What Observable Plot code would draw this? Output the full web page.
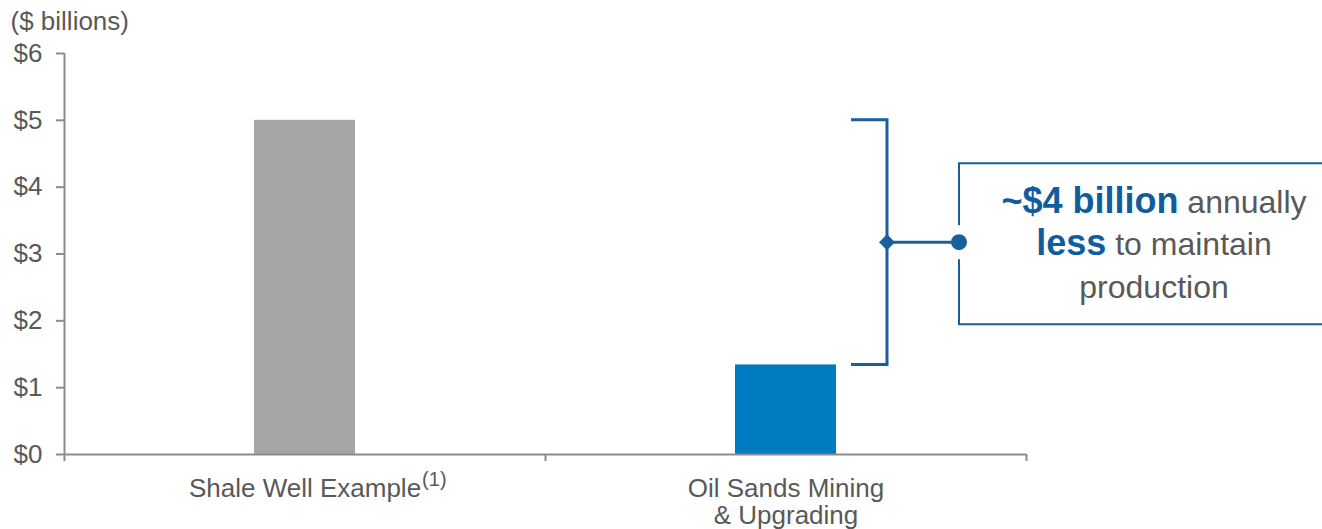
<!DOCTYPE html>
<html>
<head>
<meta charset="utf-8">
<script src="https://cdn.jsdelivr.net/npm/d3@7"></script>
<script src="https://cdn.jsdelivr.net/npm/@observablehq/plot@0.6"></script>
<style>
  body { margin: 0; background: #fff; }
</style>
</head>
<body>
<div id="chart"></div>
<script>
// Annual spend needed to maintain production ($ billions)
const categories = ["Shale Well Example", "Oil Sands Mining\n& Upgrading"];
const values = [5.0, 1.34];
const barColors = ["#a6a6a6", "#007bc2"];
const footnotes = ["(1)", ""];
const yTicks = [0, 1, 2, 3, 4, 5, 6];
const unitLabel = "($ billions)";

// Callout text: each line is a list of [text, emphasised?] runs
const calloutLines = [
  [["~$4 billion", true], [" annually", false]],
  [["less", true], [" to maintain", false]],
  [["production", false]]
];

const FONT = "'Liberation Sans', Arial, Helvetica, sans-serif";
const GREY_TEXT = "#595959";
const AXIS = "#8c8c8c";
const NAVY = "#1a5f9c";
const NAVY_TEXT = "#0f5d9e";

const rows = categories.map((name, i) => ({
  i, name, value: values[i], color: barColors[i], note: footnotes[i]
}));

// width of the first line of each label, so a footnote marker can follow it
const ctx = document.createElement("canvas").getContext("2d");
ctx.font = `26px ${FONT}`;
rows.forEach(r => { r.halfWidth = ctx.measureText(r.name.split("\n")[0]).width / 2; });

// one superscript marker per footnoted label, placed just after its first line
const footnoteMarks = rows.filter(r => r.note).map(r =>
  Plot.text([r], {
    x: d => d.i + 0.5, y: 0, text: "note", textAnchor: "start", lineAnchor: "bottom",
    dx: r.halfWidth + 1, dy: 31, fontSize: 20, fill: GREY_TEXT
  })
);

const chart = Plot.plot({
  width: 1322,
  height: 529,
  marginLeft: 64,
  marginRight: 296,
  marginTop: 53,
  marginBottom: 75,
  style: { fontFamily: FONT, background: "#fff", overflow: "visible" },
  x: { type: "linear", domain: [0, categories.length] },
  y: { domain: [0, 6] },
  marks: [
    Plot.rectY(rows, {
      x1: "i", x2: d => d.i + 1, y: "value", fill: "color",
      insetLeft: 190, insetRight: 190
    }),
    Plot.ruleX([0], { stroke: AXIS, strokeWidth: 2 }),
    Plot.ruleY([0], { stroke: AXIS, strokeWidth: 2 }),
    Plot.axisY({
      ticks: yTicks, tickFormat: d => `$${d}`, tickSize: 8, tickPadding: 14,
      fontSize: 26, fill: GREY_TEXT, stroke: AXIS, strokeWidth: 2, label: null
    }),
    Plot.axisX({
      ticks: d3.range(categories.length + 1), tickFormat: () => "", tickSize: 7,
      stroke: AXIS, strokeWidth: 2, label: null
    }),
    Plot.text(rows, {
      x: d => d.i + 0.5, y: 0, text: "name", lineAnchor: "top", dy: 23,
      fontSize: 26, lineHeight: 1.04, fill: GREY_TEXT
    }),
    ...footnoteMarks,
    Plot.text([unitLabel], {
      frameAnchor: "top-left", text: d => d, textAnchor: "start", lineAnchor: "bottom",
      dx: -54, dy: -23.5, fontSize: 26, fill: GREY_TEXT
    })
  ]
});

// Bracket spanning the two bars, with connector to the callout box
const xs = chart.scale("x"), ys = chart.scale("y");
const yTop = ys.apply(values[0]);
const yBot = ys.apply(values[1]);
const yMid = (yTop + yBot) / 2;
const barRight = xs.apply(2) - 190;
const bx = barRight + 51;
const armX = barRight + 15;
const cx = barRight + 123;

const svg = d3.select(chart);
const g = svg.append("g").attr("fill", "none");

g.append("path")
  .attr("d", `M${armX},${yTop}H${bx}V${yBot}H${armX}`)
  .attr("stroke", NAVY).attr("stroke-width", 3);
g.append("line")
  .attr("x1", bx).attr("x2", cx).attr("y1", yMid).attr("y2", yMid)
  .attr("stroke", NAVY).attr("stroke-width", 3);
g.append("path")
  .attr("d", `M${bx - 8},${yMid}L${bx},${yMid - 8}L${bx + 8},${yMid}L${bx},${yMid + 8}Z`)
  .attr("fill", NAVY);

// Callout box, open on its left edge around the connector dot
const boxTop = yMid - 79, boxBot = yMid + 82, boxRight = 1340;
g.append("path")
  .attr("d", `M${cx},${yMid - 17}V${boxTop}H${boxRight}V${boxBot}H${cx}V${yMid + 17}`)
  .attr("stroke", NAVY).attr("stroke-width", 2);
g.append("circle")
  .attr("cx", cx).attr("cy", yMid).attr("r", 8).attr("fill", NAVY);

const textX = cx + 195;
const baselines = [yMid - 29, yMid + 12.5, yMid + 56];
calloutLines.forEach((line, k) => {
  const t = svg.append("text")
    .attr("x", textX).attr("y", baselines[k])
    .attr("text-anchor", "middle")
    .attr("font-family", FONT);
  line.forEach(([s, strong]) => {
    t.append("tspan")
      .attr("font-weight", strong ? "bold" : "normal")
      .attr("font-size", strong ? 36 : 32)
      .attr("fill", strong ? NAVY_TEXT : GREY_TEXT)
      .style("white-space", "pre")
      .text(s);
  });
});

document.getElementById("chart").append(chart);
</script>
</body>
</html>
